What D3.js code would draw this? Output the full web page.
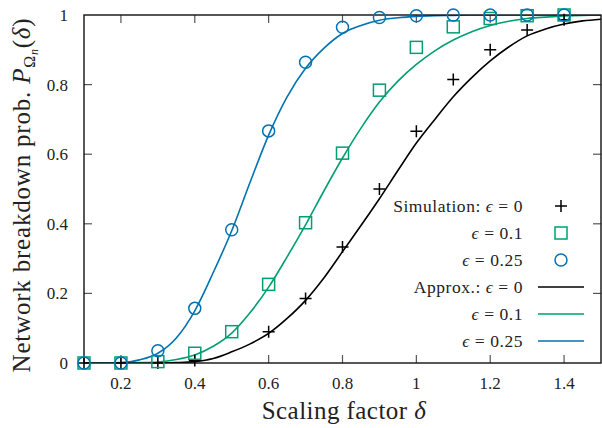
<!DOCTYPE html>
<html>
<head>
<meta charset="utf-8">
<script src="https://cdn.jsdelivr.net/npm/d3@7"></script>
<style>
  html, body { margin: 0; padding: 0; background: #fff; }
  text { font-family: "Liberation Serif", "DejaVu Serif", serif; fill: #222; }
</style>
</head>
<body>
<svg id="chart" width="602" height="428"></svg>
<script>
// x ticks and y ticks
const xTicks = [0.2, 0.4, 0.6, 0.8, 1.0, 1.2, 1.4];
const yTicks = [0, 0.2, 0.4, 0.6, 0.8, 1];

// simulation points (null = no point)
const simX = [0.1, 0.2, 0.3, 0.4, 0.5, 0.6, 0.7, 0.8, 0.9, 1.0, 1.1, 1.2, 1.3, 1.4];
const sim0 = [0, 0, 0, 0.007, null, 0.09, 0.185, 0.333, 0.5, 0.666, 0.815, 0.9, 0.957, 0.986];
const sim01 = [0, 0, 0.004, 0.028, 0.09, 0.226, 0.403, 0.603, 0.784, 0.907, 0.966, 0.99, 0.998, 1];
const sim025 = [0, 0, 0.035, 0.157, 0.383, 0.667, 0.864, 0.965, 0.993, 0.998, 1, 1, 1, 1];

// approximation curves
const approxX = [0.1, 0.15, 0.2, 0.25, 0.3, 0.35, 0.4, 0.45, 0.5, 0.55, 0.6, 0.65, 0.7, 0.75,
                 0.8, 0.85, 0.9, 0.95, 1.0, 1.05, 1.1, 1.15, 1.2, 1.25, 1.3, 1.35, 1.4, 1.45, 1.5];
const approx0 = [0, 0, 0, 0, 0, 0.001, 0.004, 0.013, 0.032, 0.055, 0.085, 0.128, 0.18, 0.245,
                 0.32, 0.395, 0.472, 0.553, 0.632, 0.70, 0.765, 0.82, 0.868, 0.908, 0.94, 0.96, 0.974, 0.983, 0.988];
const approx01 = [0, 0, 0, 0.001, 0.003, 0.01, 0.023, 0.048, 0.086, 0.145, 0.218, 0.305, 0.397, 0.495,
                  0.589, 0.675, 0.75, 0.81, 0.858, 0.897, 0.928, 0.952, 0.97, 0.982, 0.99, 0.994, 0.997, 0.999, 1];
const approx025 = [0, 0, 0.001, 0.009, 0.028, 0.072, 0.15, 0.26, 0.38, 0.52, 0.655, 0.765, 0.847, 0.905,
                   0.947, 0.97, 0.985, 0.992, 0.996, 0.998, 0.999, 1, 1, 1, 1, 1, 1, 1, 1];

const epsLabels = ["0", "0.1", "0.25"];
const colors = ["#000000", "#009e73", "#0072b2"];

const svg = d3.select("#chart");
const margin = { top: 15, right: 1, bottom: 65, left: 84 };
const W = 602 - margin.left - margin.right;
const H = 428 - margin.top - margin.bottom;

const x = d3.scaleLinear().domain([0.1, 1.5]).range([0, W]);
const y = d3.scaleLinear().domain([0, 1]).range([H, 0]);

const g = svg.append("g").attr("transform", `translate(${margin.left},${margin.top})`);

svg.append("defs").append("clipPath").attr("id", "plotclip")
  .append("rect").attr("width", W).attr("height", H);

// ticks (inward, mirrored)
const tickLen = 8;
const tickCol = "#555";
xTicks.forEach(t => {
  g.append("line").attr("x1", x(t)).attr("x2", x(t)).attr("y1", H).attr("y2", H - tickLen)
    .attr("stroke", tickCol).attr("stroke-width", 1.2);
  g.append("line").attr("x1", x(t)).attr("x2", x(t)).attr("y1", 0).attr("y2", tickLen)
    .attr("stroke", tickCol).attr("stroke-width", 1.2);
  g.append("text").attr("x", x(t)).attr("y", H + 26).attr("text-anchor", "middle")
    .attr("font-size", 17).text(d3.format("~g")(t));
});
yTicks.forEach(t => {
  if (t > 0 && t < 1) {
    g.append("line").attr("x1", 0).attr("x2", tickLen).attr("y1", y(t)).attr("y2", y(t))
      .attr("stroke", tickCol).attr("stroke-width", 1.2);
    g.append("line").attr("x1", W).attr("x2", W - tickLen).attr("y1", y(t)).attr("y2", y(t))
      .attr("stroke", tickCol).attr("stroke-width", 1.2);
  }
  g.append("text").attr("x", -16).attr("y", y(t)).attr("dy", "0.35em").attr("text-anchor", "end")
    .attr("font-size", 17).text(d3.format("~g")(t));
});

// curves
const line = d3.line().x(d => x(d[0])).y(d => y(d[1])).curve(d3.curveMonotoneX);
const curves = [approx0, approx01, approx025];
const curveG = g.append("g").attr("clip-path", "url(#plotclip)");
curves.forEach((vals, i) => {
  curveG.append("path").datum(approxX.map((v, k) => [v, vals[k]]))
    .attr("d", line).attr("fill", "none").attr("stroke", colors[i]).attr("stroke-width", 1.6);
});

// frame
g.append("rect").attr("width", W).attr("height", H).attr("fill", "none")
  .attr("stroke", "#111").attr("stroke-width", 1.4);

// markers
function drawMarker(sel, kind, cx, cy, col) {
  if (kind === 0) {
    sel.append("path").attr("d", `M${cx - 6},${cy}H${cx + 6}M${cx},${cy - 6}V${cy + 6}`)
      .attr("stroke", col).attr("stroke-width", 1.5).attr("fill", "none");
  } else if (kind === 1) {
    sel.append("rect").attr("x", cx - 6).attr("y", cy - 6).attr("width", 12).attr("height", 12)
      .attr("stroke", col).attr("stroke-width", 1.5).attr("fill", "none");
  } else {
    sel.append("circle").attr("cx", cx).attr("cy", cy).attr("r", 6)
      .attr("stroke", col).attr("stroke-width", 1.5).attr("fill", "none");
  }
}
const sims = [sim0, sim01, sim025];
const markG = g.append("g");
sims.forEach((vals, i) => {
  vals.forEach((v, k) => {
    if (v === null) return;
    drawMarker(markG, i, x(simX[k]), y(v), colors[i]);
  });
});

// legend
const legG = svg.append("g");
const legTextX = 523, legSymX = 561, legY0 = 206, legStep = 27;
function legendLabel(row, prefix, eps) {
  const t = legG.append("text").attr("x", legTextX).attr("y", legY0 + row * legStep)
    .attr("dy", "0.35em").attr("text-anchor", "end").attr("font-size", 17.5)
    .attr("letter-spacing", 0.55);
  if (prefix) t.append("tspan").text(prefix + " ");
  t.append("tspan").attr("font-style", "italic").text("ϵ");
  t.append("tspan").text(" = " + eps);
}
epsLabels.forEach((e, i) => {
  legendLabel(i, i === 0 ? "Simulation:" : "", e);
  drawMarker(legG, i, legSymX, legY0 + i * legStep, colors[i]);
  legendLabel(i + 3, i === 0 ? "Approx.:" : "", e);
  legG.append("line").attr("x1", 538).attr("x2", 584)
    .attr("y1", legY0 + (i + 3) * legStep).attr("y2", legY0 + (i + 3) * legStep)
    .attr("stroke", colors[i]).attr("stroke-width", 1.6);
});

// axis titles
const xt = svg.append("text").attr("x", 344).attr("y", 419).attr("text-anchor", "middle")
  .attr("font-size", 25).attr("letter-spacing", 0.45);
xt.append("tspan").text("Scaling factor ");
xt.append("tspan").attr("font-style", "italic").text("δ");

const yt = svg.append("text").attr("transform", "translate(30,195) rotate(-90)")
  .attr("text-anchor", "middle").attr("font-size", 25).attr("letter-spacing", 0.8);
yt.append("tspan").text("Network breakdown prob. ");
yt.append("tspan").attr("font-style", "italic").text("P");
yt.append("tspan").attr("font-size", 16).attr("dy", 5).text("Ω");
yt.append("tspan").attr("font-size", 12).attr("font-style", "italic").attr("dy", 3).text("n");
yt.append("tspan").attr("dy", -8).text("(");
yt.append("tspan").attr("font-style", "italic").text("δ");
yt.append("tspan").text(")");
</script>
</body>
</html>
